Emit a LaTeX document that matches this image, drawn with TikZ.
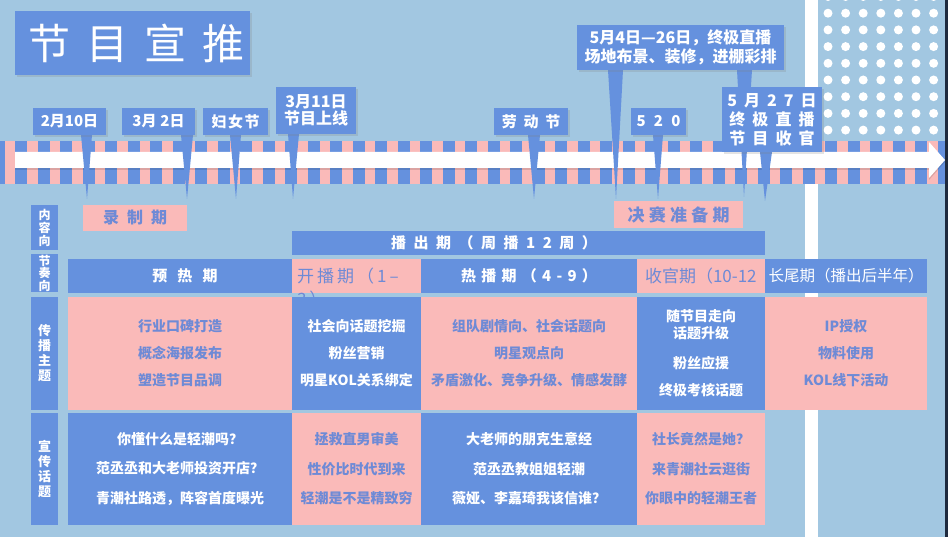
\documentclass[tikz,border=0pt]{standalone}
\usepackage{fontspec}
\setmainfont{Noto Sans CJK SC}
\usetikzlibrary{shadows}
\pgfdeclarelayer{back}
\pgfdeclarelayer{ptr}
\pgfsetlayers{back,ptr,main}
\definecolor{bgc}{RGB}{162,199,225}
\definecolor{bluec}{RGB}{101,145,222}
\definecolor{pinkc}{RGB}{250,186,185}
\definecolor{ptext}{RGB}{110,138,214}
\definecolor{edgec}{RGB}{30,42,62}
\newcommand\lsp[1]{\addfontfeatures{LetterSpace=#1}}
\newcommand\fz[2]{\fontsize{#1}{#2}\selectfont\bfseries}
\begin{document}
\begin{tikzpicture}[x=1pt,y=-1pt,
  co/.style={fill=bluec, text=white, inner sep=0pt, outer sep=0pt, anchor=north west, align=center,
    drop shadow={shadow xshift=1.5pt, shadow yshift=-2pt, opacity=0.22}},
  cb/.style={fill=bluec, text=white, inner sep=0pt, outer sep=0pt, anchor=north west, align=center},
  cp/.style={fill=pinkc, text=ptext, inner sep=0pt, outer sep=0pt, anchor=north west, align=center},
  ptrs/.style={fill=bluec},
  lbl/.style={inner sep=0pt, outer sep=0pt}]
\useasboundingbox (0,0) rectangle (948,537);

% ---------- background layer ----------
\begin{pgfonlayer}{back}
\fill[bgc] (0,0) rectangle (948,537);
\fill[white] (805,0) rectangle (818,537);
\foreach \i in {0,...,6}
  \foreach \j in {0,...,8}
    \fill[white] ({828+17.6*\i},{-3.5+16.7*\j}) circle[radius=4.5pt];
% timeline band
\begin{scope}
  \clip (0,141) rectangle (945,184);
  \fill[pinkc] (0,141) rectangle (945,184);
  \foreach \i in {0,...,42}
    \fill[bluec] ({-7.5+22.5*\i},141) rectangle ({4.5+22.5*\i},184);
\end{scope}
\fill[black,opacity=0.12] (15,154) -- (929,154) -- (929,144) -- (945,162) -- (929,180) -- (929,170) -- (15,170) -- cycle;
\fill[white] (15,152) -- (929,152) -- (929,142) -- (945,160) -- (929,178) -- (929,168) -- (15,168) -- cycle;
\fill[edgec] (945,0) rectangle (948,537);
\end{pgfonlayer}

% ---------- title ----------
\node[co, minimum width=235pt, minimum height=64pt,
      font=\fontsize{42}{42}\selectfont\lsp{38}] (title) at (15,11) {\hspace{8pt}节目宣推};

% ---------- callouts ----------
\node[co, minimum width=73pt, minimum height=27pt, font=\fz{15}{18}] (b1) at (33,108) {2月10日};
\node[co, minimum width=73pt, minimum height=27pt, font=\fz{15}{18}] (b2) at (122,108) {3月\hspace{4pt}2日};
\node[co, minimum width=65pt, minimum height=27pt, font=\fz{15}{18}\lsp{10}] (b3) at (203,108) {妇女节};
\node[co, minimum width=80pt, minimum height=47pt, font=\fz{16}{17.5}] (b4) at (276,87) {3月11日\\节目上线};
\node[co, minimum width=74pt, minimum height=27pt, font=\fz{15}{18}\lsp{45}] (b5) at (494,108) {劳动节};
\node[co, minimum width=207pt, minimum height=45pt, font=\fz{16}{19}] (b6) at (577,25) {5月4日—26日，终极直播\\场地布景、装修，进棚彩排};
\node[co, minimum width=55pt, minimum height=27pt, font=\fz{15}{18}\lsp{55}] (b7) at (631,108) {520};
\node[co, minimum width=100pt, minimum height=65pt, font=\fz{16}{19}\lsp{44}] (b8) at (722,87) {5月27日\\终极直播\\节目收官};

\coordinate (t1) at (87,199);
\coordinate (t2) at (187,199);
\coordinate (t3) at (236,199);
\coordinate (t4) at (293,199);
\coordinate (t5) at (534,199);
\coordinate (t6) at (616,199);
\coordinate (t6b) at (744,197);
\coordinate (t7) at (658,199);
\coordinate (t8) at (765,201);

\begin{pgfonlayer}{ptr}
\fill[ptrs] (b1.south -| 81,0) -- (b1.south -| 92,0) -- (t1) -- cycle;
\fill[ptrs] (b2.south -| 181,0) -- (b2.south -| 193,0) -- (t2) -- cycle;
\fill[ptrs] (b3.south -| 230,0) -- (b3.south -| 241,0) -- (t3) -- cycle;
\fill[ptrs] (b4.south -| 288,0) -- (b4.south -| 299,0) -- (t4) -- cycle;
\fill[ptrs] (b5.south -| 528,0) -- (b5.south -| 540,0) -- (t5) -- cycle;
\fill[ptrs] (b6.south -| 608,0) -- (b6.south -| 623,0) -- (t6) -- cycle;
\fill[ptrs] (b6.south -| 737,0) -- (b6.south -| 752,0) -- (t6b) -- cycle;
\fill[ptrs] (b7.south -| 653,0) -- (b7.south -| 663,0) -- (t7) -- cycle;
\fill[ptrs] (b8.south -| 760,0) -- (b8.south -| 772,0) -- (t8) -- cycle;
\end{pgfonlayer}

% ---------- phase labels ----------
\node[cp, minimum width=104pt, minimum height=26pt, font=\fz{16}{16}\lsp{50}] (lz) at (83,205) {录制期};
\node[cp, minimum width=129pt, minimum height=27pt, font=\fz{17}{17}\lsp{25}] (jz) at (614,201) {决赛准备期};

% ---------- left headers ----------
\node[cb, minimum width=27pt, minimum height=45pt, font=\fz{12}{13}] (h1) at (31,205) {内\\容\\向};
\node[cb, minimum width=27pt, minimum height=38pt, font=\fz{12}{12.5}] (h2) at (31,254) {节\\奏\\向};
\node[cb, minimum width=27pt, minimum height=113pt, font=\fz{13}{15}] (h3) at (31,297) {传\\播\\主\\题};
\node[cb, minimum width=27pt, minimum height=112pt, font=\fz{13}{15}] (h4) at (31,413) {宣\\传\\话\\题};

% ---------- broadcast bar ----------
\node[cb, minimum width=473pt, minimum height=24pt] (bc) at (292,231) {};
\node[lbl, text=white, font=\fz{15}{15}\lsp{50}] (bct) at (494,243) {播出期（周播12周）};

% ---------- rhythm row ----------
\node[cb, minimum width=224pt, minimum height=34pt, font=\fz{15}{15}\lsp{67}] (r1a) at (68,259) {\hspace{10pt}预热期};
\node[cp, minimum width=129pt, minimum height=34pt] (r1b) at (292,259) {};
\node[lbl, anchor=west, text=ptext, font=\fontsize{17}{17}\selectfont\lsp{18}] (r1bt) at (297,276) {开播期（1–};
\node[lbl, anchor=west, text=ptext, font=\fontsize{17}{17}\selectfont\lsp{18}] (r1bt2) at (297,299) {3）};
\node[cb, minimum width=216pt, minimum height=34pt, font=\fz{15}{15}\lsp{35}] (r1c) at (421,259) {热播期（4-9）};
\node[cp, minimum width=128pt, minimum height=34pt] (r1d) at (637,259) {};
\node[lbl, anchor=west, text=ptext, font=\fontsize{17}{17}\selectfont] (r1dt) at (645,276) {收官期（10-12};
\node[cb, minimum width=162pt, minimum height=34pt, font=\fontsize{15.5}{15.5}\selectfont] (r1e) at (765,259) {长尾期（播出后半年）};

% ---------- theme row ----------
\node[cp, minimum width=224pt, minimum height=113pt, font=\fz{14}{27}] (r2a) at (68,297) {行业口碑打造\\概念海报发布\\塑造节目品调};
\node[cb, minimum width=129pt, minimum height=113pt, font=\fz{14}{27}] (r2b) at (292,297) {社会向话题挖掘\\粉丝营销\\明星KOL关系绑定};
\node[cp, minimum width=216pt, minimum height=113pt, font=\fz{14}{27}] (r2c) at (421,297) {组队剧情向、社会话题向\\明星观点向\\矛盾激化、竞争升级、情感发酵};
\node[cb, minimum width=128pt, minimum height=113pt, font=\fz{14}{27}] (r2d) at (637,297) {随节目走向\\[-10pt]话题升级\\[3pt]粉丝应援\\终极考核话题};
\node[cp, minimum width=162pt, minimum height=113pt, font=\fz{14}{27}] (r2e) at (765,297) {IP授权\\物料使用\\KOL线下活动};

% ---------- topic row ----------
\node[cb, minimum width=224pt, minimum height=112pt, font=\fz{14}{29.5}] (r3a) at (68,413) {你懂什么是轻潮吗？\\范丞丞和大老师投资开店？\\青潮社路透，阵容首度曝光};
\node[cp, minimum width=129pt, minimum height=112pt, font=\fz{14}{29.5}] (r3b) at (292,413) {拯救直男审美\\性价比时代到来\\轻潮是不是精致穷};
\node[cb, minimum width=216pt, minimum height=112pt, font=\fz{14}{29.5}] (r3c) at (421,413) {大老师的朋克生意经\\范丞丞教姐姐轻潮\\薇娅、李嘉琦我该信谁？};
\node[cp, minimum width=128pt, minimum height=112pt, font=\fz{14}{29.5}] (r3d) at (637,413) {社长竟然是她？\\来青潮社云逛街\\你眼中的轻潮王者};

\end{tikzpicture}
\end{document}
